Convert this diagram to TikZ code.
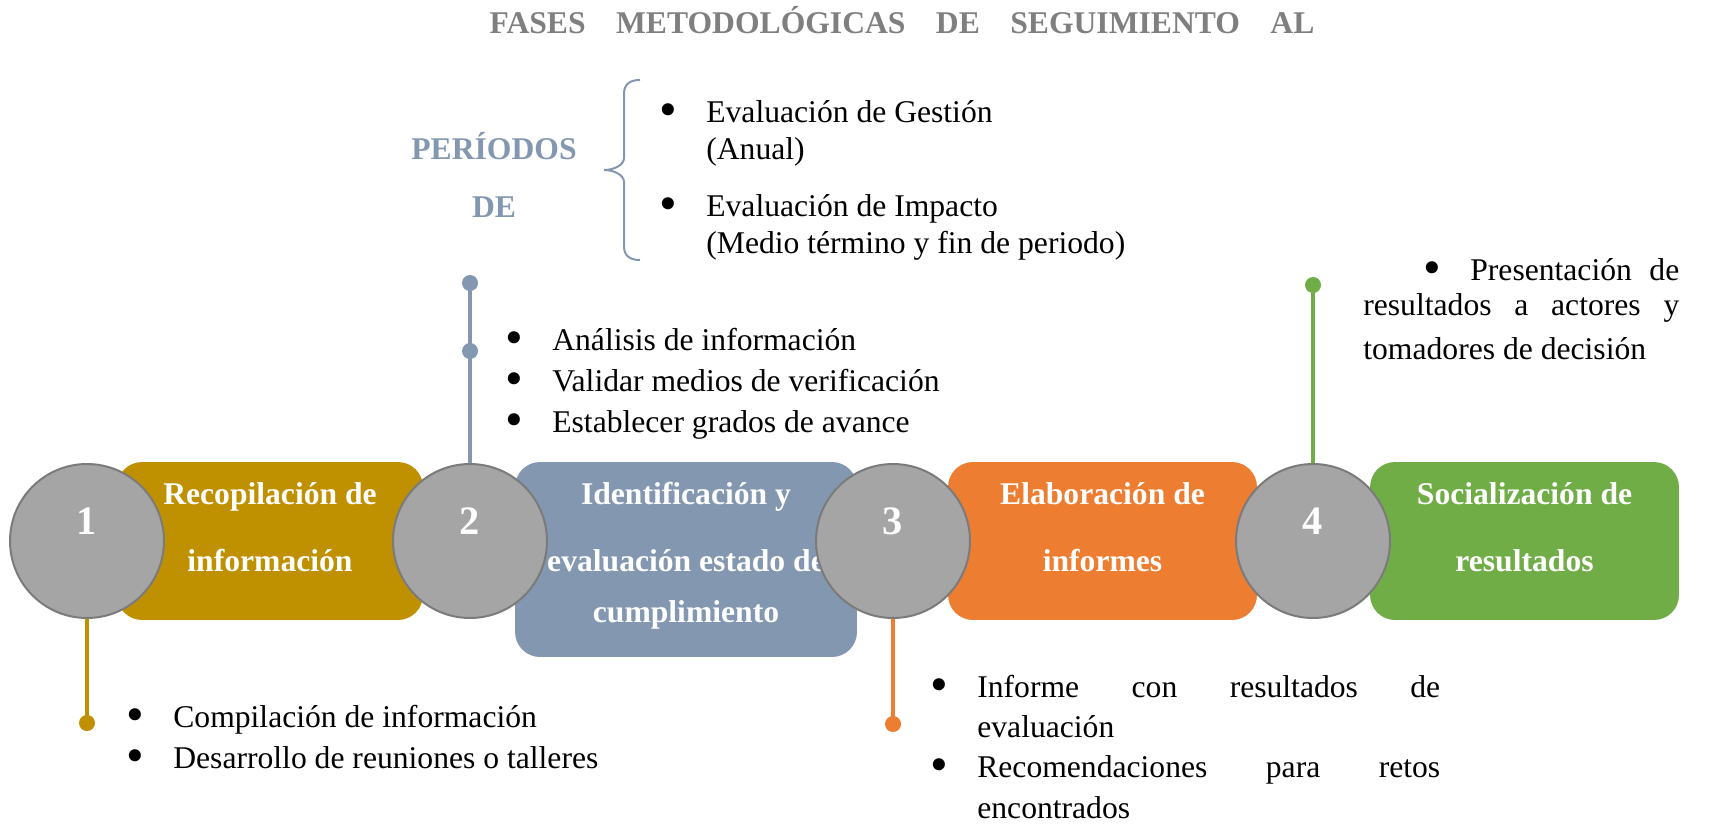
\documentclass[tikz,border=0pt]{standalone}
\usepackage{fontspec}
\setmainfont{Liberation Serif}
\usepackage{graphicx}

\definecolor{goldc}{HTML}{BF9000}
\definecolor{bluec}{HTML}{8497B0}
\definecolor{orangec}{HTML}{ED7D31}
\definecolor{greenc}{HTML}{70AD47}
\definecolor{circfill}{HTML}{A5A5A5}
\definecolor{circline}{HTML}{7B7B7B}
\definecolor{titlegray}{HTML}{7F7F7F}

\newcommand{\itm}{\makebox[0.94cm][l]{\raisebox{-0.13em}{\scalebox{1.6}{\textbullet}}}}

\tikzset{
    phasebox/.style={rectangle, rounded corners=0.5cm, inner sep=0pt, minimum height=3.16cm},
    phasecircle/.style={circle, fill=circfill, draw=circline, line width=0.04cm, minimum size=3.08cm, inner sep=0pt},
    boxtext/.style={text=white, font=\bfseries\fontsize{18}{38}\selectfont, align=center, inner sep=0pt, anchor=base},
    numtext/.style={text=white, font=\bfseries\fontsize{23}{23}\selectfont, inner sep=0pt},
    enddot/.style={circle, inner sep=0pt, minimum size=0.32cm},
    link/.style={line width=0.07cm},
    bodytext/.style={font=\fontsize{18}{23.3}\selectfont, align=left, inner sep=0pt, anchor=base west}
}

\begin{document}
\begin{tikzpicture}[x=0.02cm, y=-0.02cm]
    \useasboundingbox (0,0) rectangle (1726,825);

    % Title
    \node[text=titlegray, font=\bfseries\fontsize{18}{18}\selectfont, inner sep=0pt, anchor=base] (title) at (902,33) {\makebox[16.5cm][s]{FASES METODOLÓGICAS DE SEGUIMIENTO AL}};

    % Evaluation periods (base = last line)
    \node[text=bluec, font=\bfseries\fontsize{18}{33}\selectfont, align=center, inner sep=0pt, anchor=base] (periodos) at (494,217) {PERÍODOS\\DE};
    \draw[bluec, line width=0.04cm] (640,80) .. controls (630,80) and (624,84) .. (624,94) -- (624,158)
        .. controls (624,165) and (614,170) .. (604,170) .. controls (614,170) and (624,175) .. (624,182)
        -- (624,246) .. controls (624,256) and (630,260) .. (640,260);
    \node[bodytext, font=\fontsize{18}{21}\selectfont] (evaltipos) at (659,253) {\itm Evaluación de Gestión\\ \hspace*{0.94cm}(Anual)\\[0.4cm] \itm Evaluación de Impacto\\ \hspace*{0.94cm}(Medio término y fin de periodo)};

    % Phase boxes
    \node[phasebox, fill=goldc, minimum width=6.12cm] (b1) at (270,541) {};
    \node[phasebox, fill=bluec, minimum width=6.84cm, minimum height=3.9cm] (b2) at (686,559.5) {};
    \node[phasebox, fill=orangec, minimum width=6.18cm] (b3) at (1102.5,541) {};
    \node[phasebox, fill=greenc, minimum width=6.18cm] (b4) at (1524.5,541) {};
    \node[boxtext] (t1) at (270,571) {Recopilación de\\información};
    \node[boxtext] (t2) at (686,622) {Identificación y\\evaluación estado de\\[-9pt]cumplimiento};
    \node[boxtext] (t3) at (1102.5,571) {Elaboración de\\informes};
    \node[boxtext] (t4) at (1524.5,571) {Socialización de\\resultados};

    % Numbered circles
    \foreach \n/\x in {1/87, 2/470, 3/893, 4/1313} {
        \node[phasecircle] (c\n) at (\x,541) {};
        \node[numtext] (n\n) at (\x,521) {\n};
    }

    % Connectors
    \node[enddot, fill=goldc] (d1) at (87,723) {};
    \node[enddot, fill=bluec] (d2) at (470,283) {};
    \node[enddot, fill=bluec] (d2m) at (470,351) {};
    \node[enddot, fill=orangec] (d3) at (893,724) {};
    \node[enddot, fill=greenc] (d4) at (1313,285) {};
    \draw[link, goldc] (c1.south) -- (d1.center);
    \draw[link, bluec] (c2.north) -- (d2.center);
    \draw[link, orangec] (c3.south) -- (d3.center);
    \draw[link, greenc] (c4.north) -- (d4.center);

    % Activities (base = last line)
    \node[bodytext] (act1) at (126,768) {\itm Compilación de información\\ \itm Desarrollo de reuniones o talleres};
    \node[bodytext] (act2) at (505,432) {\itm Análisis de información\\ \itm Validar medios de verificación\\ \itm Establecer grados de avance};
    \node[bodytext, font=\fontsize{18}{22.9}\selectfont] (act3) at (930,818) {\itm\makebox[9.26cm][s]{Informe con resultados de}\\ \hspace*{0.94cm}evaluación\\ \itm\makebox[9.26cm][s]{Recomendaciones para retos}\\ \hspace*{0.94cm}encontrados};
    \node[bodytext, font=\fontsize{18}{19.9}\selectfont] (act4) at (1363,359) {\makebox[6.32cm][l]{\hspace*{1.2cm}\itm Presentación\hfill de}\\ \makebox[6.32cm][s]{resultados a actores y}\\[0.18cm] tomadores de decisión};
\end{tikzpicture}
\end{document}
